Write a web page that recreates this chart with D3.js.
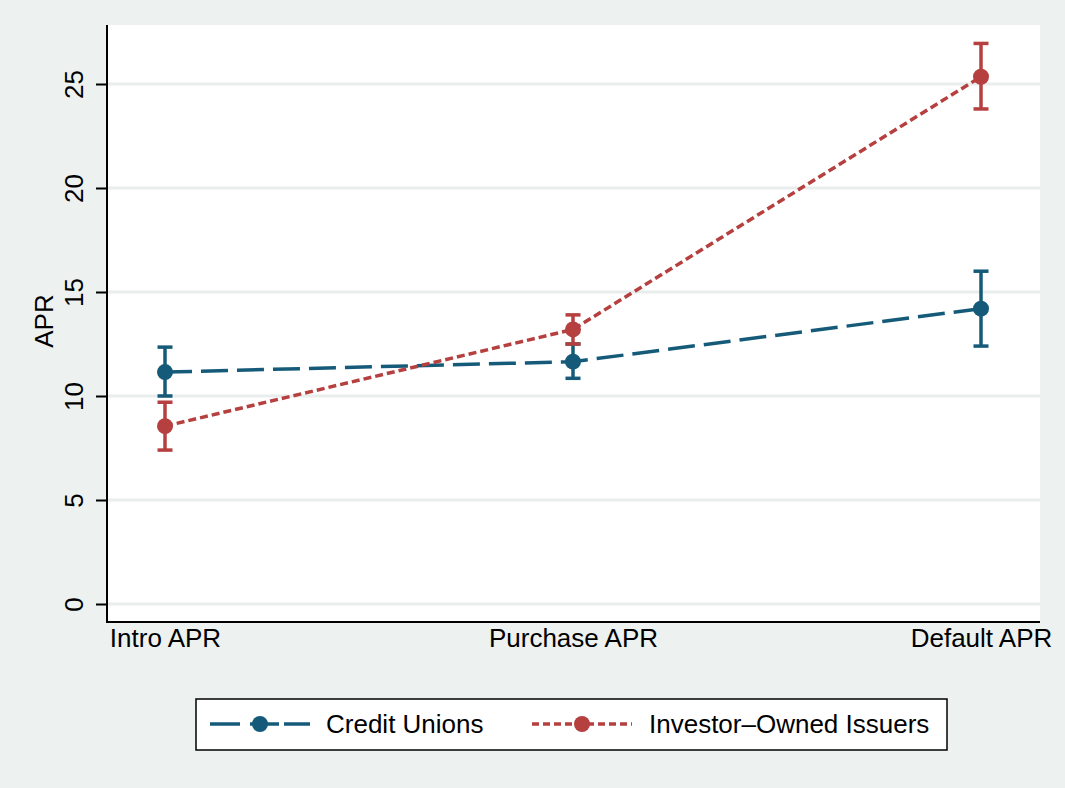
<!DOCTYPE html>
<html><head><meta charset="utf-8">
<script src="https://cdn.jsdelivr.net/npm/d3@7"></script>
<style>body{margin:0;background:#edf1f0}svg{display:block}</style>
</head><body>
<script>
const categories = ["Intro APR", "Purchase APR", "Default APR"];
const seriesNames = ["Credit Unions", "Investor\u2013Owned Issuers"];
const creditUnions = [11.15, 11.65, 14.2];
const creditUnionsLo = [10.0, 10.85, 12.4];
const creditUnionsHi = [12.35, 12.5, 16.0];
const investorOwned = [8.55, 13.2, 25.35];
const investorOwnedLo = [7.4, 12.5, 23.8];
const investorOwnedHi = [9.7, 13.9, 26.95];
const yTicks = [0, 5, 10, 15, 20, 25];

const W = 1065, H = 788;
const colors = ["#155b79", "#b5403f"];
const dashes = ["27,9", "8,4"];
const font = "'Liberation Sans', Arial, sans-serif";
const lw = 3.5;

const svg = d3.select("body").append("svg").attr("width", W).attr("height", H);
svg.append("rect").attr("width", W).attr("height", H).attr("fill", "#edf1f0");

const plot = {l: 108, r: 1040, t: 25, b: 622};
svg.append("rect").attr("x", plot.l).attr("y", plot.t)
  .attr("width", plot.r - plot.l).attr("height", plot.b - plot.t).attr("fill", "#ffffff");

const y = d3.scaleLinear().domain([0, 25]).range([604, 84]);
const x = d3.scalePoint().domain(categories).range([165, 981]);

// gridlines
svg.append("g").selectAll("line").data(yTicks).join("line")
  .attr("x1", plot.l).attr("x2", plot.r)
  .attr("y1", d => y(d)).attr("y2", d => y(d))
  .attr("stroke", "#eaeded").attr("stroke-width", 3);

// y axis
const yAxis = svg.append("g").attr("transform", `translate(${plot.l - 1},0)`)
  .call(d3.axisLeft(y).tickValues(yTicks).tickSize(11).tickPadding(0).tickFormat(d3.format("d")));
yAxis.select(".domain").remove();
yAxis.selectAll(".tick line").attr("stroke", "#000").attr("stroke-width", 2);
yAxis.selectAll(".tick text")
  .attr("transform", "translate(-24,0) rotate(-90)")
  .attr("x", 0).attr("y", 0).attr("dy", 0)
  .attr("text-anchor", "middle")
  .style("font-family", font).style("font-size", "26px").attr("fill", "#000");

svg.append("line").attr("x1", plot.l - 1).attr("x2", plot.l - 1)
  .attr("y1", plot.t).attr("y2", plot.b + 1).attr("stroke", "#000").attr("stroke-width", 2);
svg.append("line").attr("x1", plot.l - 1).attr("x2", plot.r)
  .attr("y1", plot.b).attr("y2", plot.b).attr("stroke", "#000").attr("stroke-width", 2);

// x axis labels
const xAxis = svg.append("g").attr("transform", `translate(0,${plot.b})`)
  .call(d3.axisBottom(x).tickSize(0).tickPadding(0));
xAxis.select(".domain").remove();
xAxis.selectAll(".tick text").attr("y", 25).attr("dy", 0)
  .style("font-family", font).style("font-size", "26px").attr("fill", "#000");

// y title
svg.append("text").attr("transform", "translate(53,321) rotate(-90)")
  .attr("text-anchor", "middle").style("font-family", font).style("font-size", "26px")
  .text("APR");

const series = [
  {vals: creditUnions, lo: creditUnionsLo, hi: creditUnionsHi},
  {vals: investorOwned, lo: investorOwnedLo, hi: investorOwnedHi}
];

series.forEach((s, i) => {
  const g = svg.append("g");
  const line = d3.line().x((d, j) => x(categories[j])).y(d => y(d));
  g.append("path").datum(s.vals).attr("d", line).attr("fill", "none")
    .attr("stroke", colors[i]).attr("stroke-width", lw).attr("stroke-dasharray", dashes[i]);
  // error bars
  categories.forEach((c, j) => {
    const cx = x(c);
    g.append("line").attr("x1", cx).attr("x2", cx).attr("y1", y(s.lo[j])).attr("y2", y(s.hi[j]))
      .attr("stroke", colors[i]).attr("stroke-width", lw);
    [s.lo[j], s.hi[j]].forEach(v => {
      g.append("line").attr("x1", cx - 7.5).attr("x2", cx + 7.5).attr("y1", y(v)).attr("y2", y(v))
        .attr("stroke", colors[i]).attr("stroke-width", lw);
    });
  });
  g.selectAll("circle").data(s.vals).join("circle")
    .attr("cx", (d, j) => x(categories[j])).attr("cy", d => y(d)).attr("r", 8)
    .attr("fill", colors[i]);
});

// legend
const leg = svg.append("g");
leg.append("rect").attr("x", 196).attr("y", 699).attr("width", 751).attr("height", 51)
  .attr("fill", "#fff").attr("stroke", "#000").attr("stroke-width", 1.5);
const legItems = [{x0: 210, x1: 310, tx: 326}, {x0: 532, x1: 632, tx: 649}];
legItems.forEach((it, i) => {
  leg.append("line").attr("x1", it.x0).attr("x2", it.x1).attr("y1", 724).attr("y2", 724)
    .attr("stroke", colors[i]).attr("stroke-width", lw)
    .attr("stroke-dasharray", i === 0 ? "30,10,12,5,12,5" : "7,4");
  leg.append("circle").attr("cx", (it.x0 + it.x1) / 2).attr("cy", 724).attr("r", 8).attr("fill", colors[i]);
  leg.append("text").attr("x", it.tx).attr("y", 733).style("font-family", font)
    .style("font-size", "26px").text(seriesNames[i]);
});
</script>
</body></html>
